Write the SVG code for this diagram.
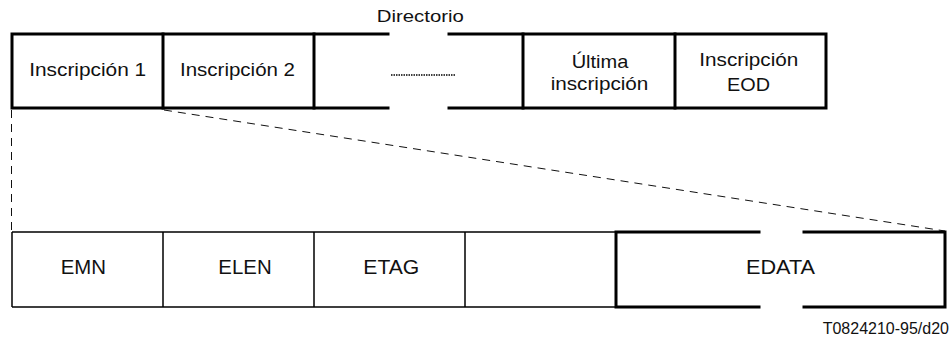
<svg xmlns="http://www.w3.org/2000/svg" width="950" height="340" viewBox="0 0 950 340">
  <style>
    .thick { fill: none; stroke: #000; stroke-width: 3; stroke-linecap: square; }
    .thin { fill: none; stroke: #000; stroke-width: 1.5; }
    .dash { fill: none; stroke: #111; stroke-width: 1; stroke-dasharray: 8 6; }
    .dots { fill: none; stroke: #000; stroke-width: 1.5; stroke-dasharray: 1.5 1; }
    text { font-family: "Liberation Sans", Arial, sans-serif; fill: #111; text-anchor: middle; }
    .lbl { font-size: 18.5px; }
    .big { font-size: 20.5px; }
    .ttl { font-size: 17px; }
    .ref { font-size: 16px; text-anchor: end; }
  </style>
  <rect width="950" height="340" fill="#fff"/>

  <!-- Directory: row of entries, broken in the middle -->
  <g id="directory">
    <text class="ttl" x="420.3" y="21.7" textLength="87" lengthAdjust="spacingAndGlyphs">Directorio</text>
    <path class="thick" d="M12,34 H388 M449,34 H826 M12,108 H388 M449,108 H826 M12,34 V108 M826,34 V108"/>
  </g>
  <g id="entry-1">
    <path class="thick" d="M163,34 V108"/>
    <text class="lbl" x="87.7" y="76" textLength="117" lengthAdjust="spacingAndGlyphs">Inscripción 1</text>
  </g>
  <g id="entry-2">
    <path class="thick" d="M314,34 V108"/>
    <text class="lbl" x="237.5" y="76" textLength="115" lengthAdjust="spacingAndGlyphs">Inscripción 2</text>
  </g>
  <g id="entry-more">
    <path class="dots" d="M391,75 H456"/>
  </g>
  <g id="entry-last">
    <path class="thick" d="M523,34 V108"/>
    <text class="lbl" x="600" y="67.5" textLength="56.7" lengthAdjust="spacingAndGlyphs">Última</text>
    <text class="lbl" x="599.5" y="89.5" textLength="97.7" lengthAdjust="spacingAndGlyphs">inscripción</text>
  </g>
  <g id="entry-eod">
    <path class="thick" d="M675,34 V108"/>
    <text class="lbl" x="748.8" y="65.7" textLength="99" lengthAdjust="spacingAndGlyphs">Inscripción</text>
    <text class="lbl" x="748.5" y="91" textLength="43" lengthAdjust="spacingAndGlyphs">EOD</text>
  </g>

  <!-- Expansion of entry 1 into its fields -->
  <g id="connectors">
    <path class="dash" d="M11.5,110 V232"/>
    <path class="dash" d="M164,110 L945,231"/>
  </g>

  <g id="field-emn">
    <path class="thin" d="M12,232 H163 M12,307 H163 M12,232 V307"/>
    <text class="big" x="83.3" y="274" textLength="45.3" lengthAdjust="spacingAndGlyphs">EMN</text>
  </g>
  <g id="field-elen">
    <path class="thin" d="M163,232 H314 M163,307 H314 M163,232 V307"/>
    <text class="big" x="245" y="274" textLength="53.3" lengthAdjust="spacingAndGlyphs">ELEN</text>
  </g>
  <g id="field-etag">
    <path class="thin" d="M314,232 H465 M314,307 H465 M314,232 V307"/>
    <text class="big" x="391.3" y="274" textLength="56" lengthAdjust="spacingAndGlyphs">ETAG</text>
  </g>
  <g id="field-blank">
    <path class="thin" d="M465,232 H616 M465,307 H616 M465,232 V307"/>
  </g>
  <g id="field-edata">
    <path class="thick" d="M616,232 H759 M804,232 H945 M616,307 H759 M804,307 H945 M616,232 V307 M945,232 V307"/>
    <text class="big" x="780.5" y="274" textLength="69" lengthAdjust="spacingAndGlyphs">EDATA</text>
  </g>

  <text class="ref" x="949" y="334">T0824210-95/d20</text>
</svg>
